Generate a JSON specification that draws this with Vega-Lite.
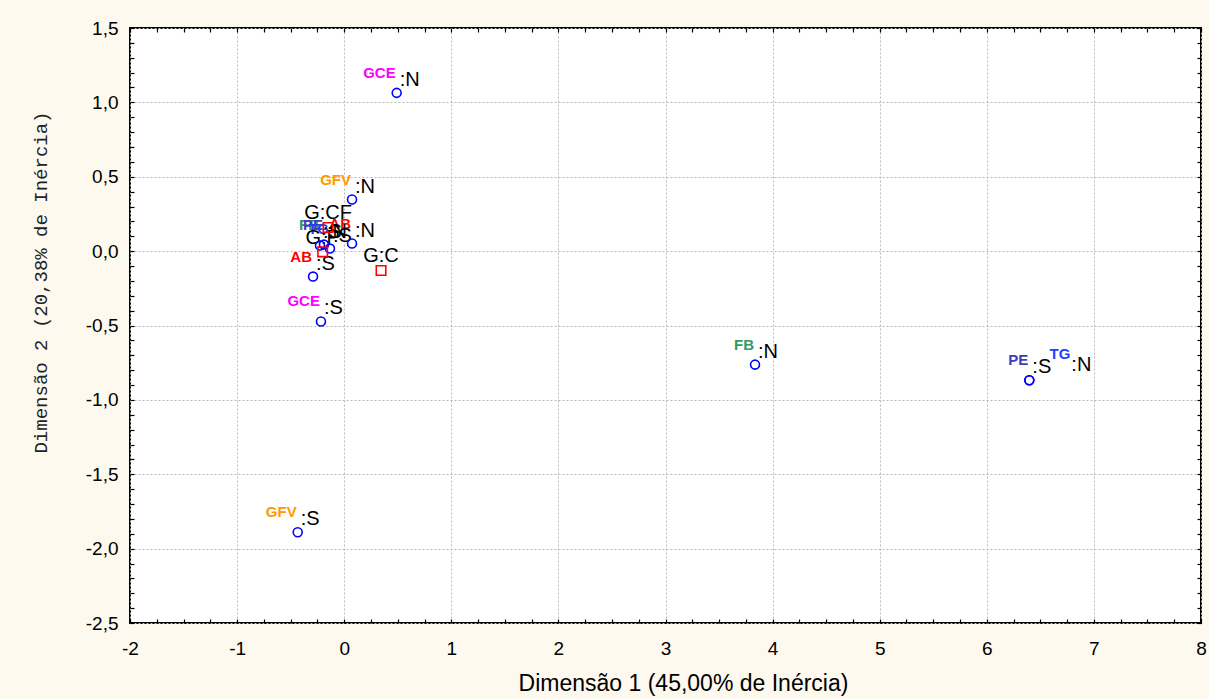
{
  "$schema": "https://vega.github.io/schema/vega-lite/v6.json",
  "width": 1071,
  "height": 595,
  "autosize": {"type": "none"},
  "padding": {"left": 130, "top": 28, "right": 8, "bottom": 76},
  "background": "#fdf9ee",
  "config": {
    "view": {"fill": "white", "stroke": "black", "strokeWidth": 2},
    "locale": {"number": {"decimal": ",", "thousands": ".", "grouping": [3], "currency": ["", ""], "minus": "-"}}
  },
  "data": {
    "values": [
      {"id": "GCE:N", "var": "GCE", "cat": ":N", "kind": "circle", "x": 0.490, "y": 1.064},
      {"id": "GFV:N", "var": "GFV", "cat": ":N", "kind": "circle", "x": 0.073, "y": 0.347},
      {"id": "GCE:S", "var": "GCE", "cat": ":S", "kind": "circle", "x": -0.217, "y": -0.473},
      {"id": "FB:N", "var": "FB", "cat": ":N", "kind": "circle", "x": 3.836, "y": -0.763},
      {"id": "PE:S", "var": "PE", "cat": ":S", "kind": "circle", "x": 6.397, "y": -0.868},
      {"id": "TG:N", "var": "TG", "cat": ":N", "kind": "circle", "x": 6.397, "y": -0.868},
      {"id": "GFV:S", "var": "GFV", "cat": ":S", "kind": "circle", "x": -0.434, "y": -1.890},
      {"id": "AB:S", "var": "AB", "cat": ":S", "kind": "circle", "x": -0.291, "y": -0.171},
      {"id": "FB:S", "var": "FB", "cat": ":S", "kind": "circle", "x": -0.226, "y": 0.038},
      {"id": "PE:N", "var": "PE", "cat": ":N", "kind": "circle", "x": -0.189, "y": 0.044},
      {"id": "TG:S", "var": "TG", "cat": ":S", "kind": "circle", "x": -0.133, "y": 0.017},
      {"id": "AB:N", "var": "AB", "cat": ":N", "kind": "circle", "x": 0.073, "y": 0.051},
      {"id": "G:CF", "var": "G", "cat": "G:CF", "kind": "square", "x": -0.151, "y": 0.159},
      {"id": "G:P", "var": "G", "cat": "G:P", "kind": "square", "x": -0.201, "y": -0.005},
      {"id": "G:C", "var": "G", "cat": "G:C", "kind": "square", "x": 0.344, "y": -0.130}
    ]
  },
  "resolve": {"axis": {"x": "independent", "y": "independent"}},
  "layer": [
    {
      "transform": [{"filter": "datum.kind == 'circle' && datum.id != 'TG:N'"}],
      "mark": {"type": "text", "font": "Liberation Sans", "fontWeight": "bold", "fontSize": 15, "align": "right", "baseline": "alphabetic", "dx": -1, "dy": -15},
      "encoding": {
        "x": {"field": "x", "type": "quantitative", "scale": {"domain": [-2, 8], "nice": false, "zero": false},
          "axis": {"orient": "top", "values": [-2,-1.75,-1.5,-1.25,-1,-0.75,-0.5,-0.25,0,0.25,0.5,0.75,1,1.25,1.5,1.75,2,2.25,2.5,2.75,3,3.25,3.5,3.75,4,4.25,4.5,4.75,5,5.25,5.5,5.75,6,6.25,6.5,6.75,7,7.25,7.5,7.75,8],
            "labels": false, "domain": false, "grid": false, "ticks": true, "tickSize": -4, "tickColor": "black", "tickWidth": 1.2, "title": null}},
        "y": {"field": "y", "type": "quantitative", "scale": {"domain": [-2.5, 1.5], "nice": false, "zero": false},
          "axis": {"orient": "right", "values": [-2.5,-2.4,-2.3,-2.2,-2.1,-2,-1.9,-1.8,-1.7,-1.6,-1.5,-1.4,-1.3,-1.2,-1.1,-1,-0.9,-0.8,-0.7,-0.6,-0.5,-0.4,-0.3,-0.2,-0.1,0,0.1,0.2,0.3,0.4,0.5,0.6,0.7,0.8,0.9,1,1.1,1.2,1.3,1.4,1.5],
            "labels": false, "domain": false, "grid": false, "ticks": true, "tickSize": -4, "tickColor": "black", "tickWidth": 1.2, "title": null}},
        "text": {"field": "var"},
        "color": {"field": "var", "type": "nominal", "legend": null,
          "scale": {"domain": ["GCE", "GFV", "FB", "PE", "TG", "AB"], "range": ["#ff00ff", "#ff9900", "#339966", "#3f3fb4", "#1f3fff", "#ff0000"]}}
      }
    },
    {
      "transform": [{"filter": "datum.kind == 'circle' && datum.id != 'TG:N'"}],
      "mark": {"type": "text", "font": "Liberation Sans", "fontSize": 20, "align": "left", "baseline": "alphabetic", "dx": 3, "dy": -7, "color": "black"},
      "encoding": {
        "x": {"field": "x", "type": "quantitative", "scale": {"domain": [-2, 8], "nice": false, "zero": false}, "axis": null},
        "y": {"field": "y", "type": "quantitative", "scale": {"domain": [-2.5, 1.5], "nice": false, "zero": false}, "axis": null},
        "text": {"field": "cat"}
      }
    },
    {
      "transform": [{"filter": "datum.id == 'TG:N'"}],
      "mark": {"type": "text", "font": "Liberation Sans", "fontWeight": "bold", "fontSize": 15, "align": "right", "baseline": "alphabetic", "dx": 41, "dy": -21},
      "encoding": {
        "x": {"field": "x", "type": "quantitative", "scale": {"domain": [-2, 8], "nice": false, "zero": false}, "axis": null},
        "y": {"field": "y", "type": "quantitative", "scale": {"domain": [-2.5, 1.5], "nice": false, "zero": false}, "axis": null},
        "text": {"field": "var"},
        "color": {"field": "var", "type": "nominal", "legend": null,
          "scale": {"domain": ["GCE", "GFV", "FB", "PE", "TG", "AB"], "range": ["#ff00ff", "#ff9900", "#339966", "#3f3fb4", "#1f3fff", "#ff0000"]}}
      }
    },
    {
      "transform": [{"filter": "datum.id == 'TG:N'"}],
      "mark": {"type": "text", "font": "Liberation Sans", "fontSize": 20, "align": "left", "baseline": "alphabetic", "dx": 42, "dy": -9, "color": "black"},
      "encoding": {
        "x": {"field": "x", "type": "quantitative", "scale": {"domain": [-2, 8], "nice": false, "zero": false}, "axis": null},
        "y": {"field": "y", "type": "quantitative", "scale": {"domain": [-2.5, 1.5], "nice": false, "zero": false}, "axis": null},
        "text": {"field": "cat"}
      }
    },
    {
      "transform": [{"filter": "datum.kind == 'square'"}],
      "mark": {"type": "text", "font": "Liberation Sans", "fontSize": 20, "align": "center", "baseline": "alphabetic", "dy": -8, "color": "black"},
      "encoding": {
        "x": {"field": "x", "type": "quantitative", "scale": {"domain": [-2, 8], "nice": false, "zero": false}, "axis": null},
        "y": {"field": "y", "type": "quantitative", "scale": {"domain": [-2.5, 1.5], "nice": false, "zero": false}, "axis": null},
        "text": {"field": "cat"}
      }
    },
    {
      "transform": [{"filter": "datum.kind == 'circle'"}],
      "mark": {"type": "point", "shape": "circle", "filled": false, "stroke": "#0000ff", "strokeWidth": 1.6, "size": 80, "opacity": 1},
      "encoding": {
        "x": {"field": "x", "type": "quantitative", "scale": {"domain": [-2, 8], "nice": false, "zero": false},
          "axis": {"orient": "bottom", "values": [-2,-1,0,1,2,3,4,5,6,7,8], "format": "d", "ticks": false, "domain": false,
            "grid": true, "gridColor": "#b8b8b8", "gridDash": [2, 2], "gridWidth": 1,
            "labelFont": "Liberation Sans", "labelFontSize": 19, "labelColor": "black", "labelPadding": 16, "labelFlush": false, "labelOverlap": false,
            "title": "Dimensão 1 (45,00% de Inércia)", "titleFont": "Liberation Sans", "titleFontSize": 23, "titleFontWeight": "normal", "titleColor": "black",
            "titleX": 553, "titleY": 60, "titleAlign": "center", "titleBaseline": "middle"}},
        "y": {"field": "y", "type": "quantitative", "scale": {"domain": [-2.5, 1.5], "nice": false, "zero": false},
          "axis": {"orient": "left", "values": [-2.5,-2,-1.5,-1,-0.5,0,0.5,1,1.5], "format": ".1f", "ticks": false, "domain": false,
            "grid": true, "gridColor": "#b8b8b8", "gridDash": [2, 2], "gridWidth": 1,
            "labelFont": "Liberation Sans", "labelFontSize": 19, "labelColor": "black", "labelPadding": 12, "labelFlush": false, "labelOverlap": false,
            "title": "Dimensão 2 (20,38% de Inércia)", "titleFont": "Liberation Mono", "titleFontSize": 19, "titleFontWeight": "normal", "titleColor": "#222222",
            "titleX": -90, "titleY": 254, "titleAngle": -90, "titleAlign": "center", "titleBaseline": "middle"}}
      }
    },
    {
      "transform": [{"filter": "datum.kind == 'square'"}],
      "mark": {"type": "point", "shape": "square", "filled": false, "stroke": "#ff0000", "strokeWidth": 1.6, "size": 90, "opacity": 1},
      "encoding": {
        "x": {"field": "x", "type": "quantitative", "scale": {"domain": [-2, 8], "nice": false, "zero": false},
          "axis": {"orient": "bottom", "values": [-2,-1.75,-1.5,-1.25,-1,-0.75,-0.5,-0.25,0,0.25,0.5,0.75,1,1.25,1.5,1.75,2,2.25,2.5,2.75,3,3.25,3.5,3.75,4,4.25,4.5,4.75,5,5.25,5.5,5.75,6,6.25,6.5,6.75,7,7.25,7.5,7.75,8],
            "labels": false, "domain": false, "grid": false, "ticks": true, "tickSize": -4, "tickColor": "black", "tickWidth": 1.2, "title": null}},
        "y": {"field": "y", "type": "quantitative", "scale": {"domain": [-2.5, 1.5], "nice": false, "zero": false},
          "axis": {"orient": "left", "values": [-2.5,-2.4,-2.3,-2.2,-2.1,-2,-1.9,-1.8,-1.7,-1.6,-1.5,-1.4,-1.3,-1.2,-1.1,-1,-0.9,-0.8,-0.7,-0.6,-0.5,-0.4,-0.3,-0.2,-0.1,0,0.1,0.2,0.3,0.4,0.5,0.6,0.7,0.8,0.9,1,1.1,1.2,1.3,1.4,1.5],
            "labels": false, "domain": false, "grid": false, "ticks": true, "tickSize": -4, "tickColor": "black", "tickWidth": 1.2, "title": null}}
      }
    }
  ]
}
